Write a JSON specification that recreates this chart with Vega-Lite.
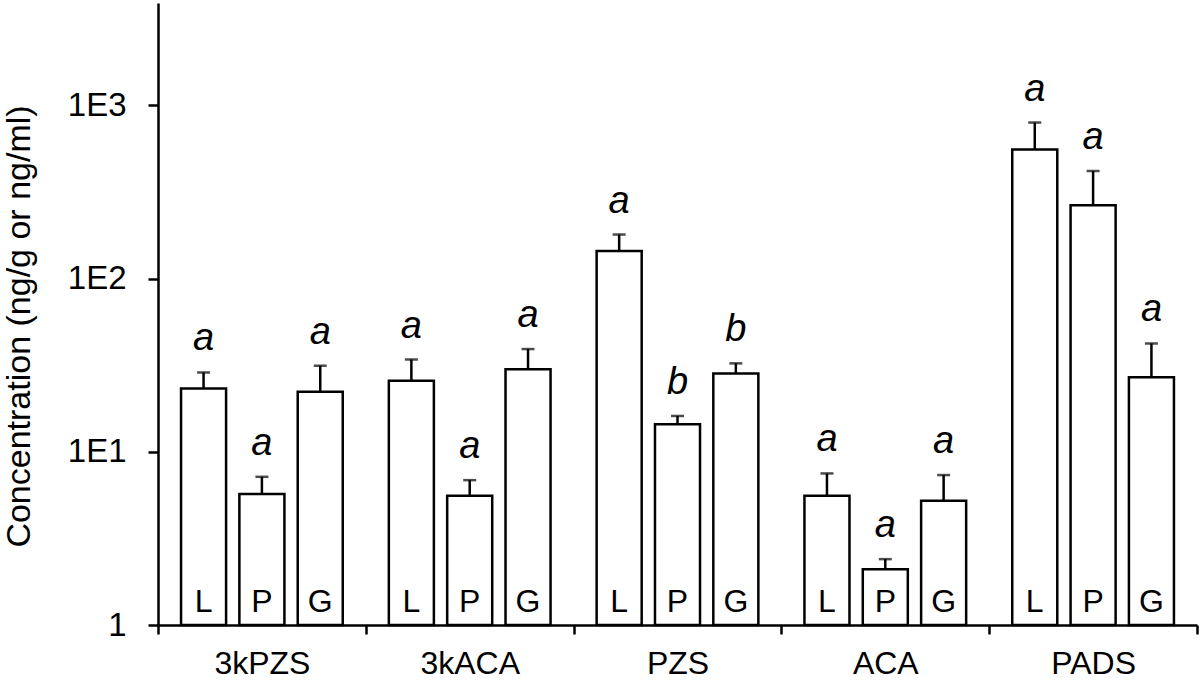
{
  "$schema": "https://vega.github.io/schema/vega-lite/v6.json",
  "width": 1039,
  "height": 622,
  "autosize": "none",
  "padding": {"left": 158, "top": 3, "right": 3, "bottom": 55},
  "background": "white",
  "config": {"view": {"stroke": null}, "font": "Liberation Sans"},
  "data": {
    "values": [
      {"compound": "3kPZS", "tissue": "L", "value": 23.2, "upper": 28.7, "letter": "a"},
      {"compound": "3kPZS", "tissue": "P", "value": 5.7, "upper": 7.17, "letter": "a"},
      {"compound": "3kPZS", "tissue": "G", "value": 22.2, "upper": 31.4, "letter": "a"},
      {"compound": "3kACA", "tissue": "L", "value": 25.7, "upper": 34.1, "letter": "a"},
      {"compound": "3kACA", "tissue": "P", "value": 5.57, "upper": 6.86, "letter": "a"},
      {"compound": "3kACA", "tissue": "G", "value": 30.0, "upper": 39.2, "letter": "a"},
      {"compound": "PZS", "tissue": "L", "value": 144.5, "upper": 179.6, "letter": "a"},
      {"compound": "PZS", "tissue": "P", "value": 14.4, "upper": 16.1, "letter": "b"},
      {"compound": "PZS", "tissue": "G", "value": 28.3, "upper": 32.4, "letter": "b"},
      {"compound": "ACA", "tissue": "L", "value": 5.57, "upper": 7.5, "letter": "a"},
      {"compound": "ACA", "tissue": "P", "value": 2.1, "upper": 2.4, "letter": "a"},
      {"compound": "ACA", "tissue": "G", "value": 5.22, "upper": 7.34, "letter": "a"},
      {"compound": "PADS", "tissue": "L", "value": 556, "upper": 796, "letter": "a"},
      {"compound": "PADS", "tissue": "P", "value": 265, "upper": 418, "letter": "a"},
      {"compound": "PADS", "tissue": "G", "value": 26.9, "upper": 42.2, "letter": "a"}
    ]
  },
  "encoding": {
    "x": {
      "field": "compound",
      "type": "nominal",
      "sort": ["3kPZS", "3kACA", "PZS", "ACA", "PADS"],
      "scale": {"paddingInner": 0, "paddingOuter": 0},
      "axis": {
        "title": null,
        "labelAngle": 0,
        "labelFontSize": 32,
        "labelColor": "black",
        "labelPadding": 14,
        "tickBand": "extent",
        "tickSize": 9,
        "tickWidth": 2.5,
        "tickColor": "black",
        "domainColor": "black",
        "domainWidth": 2.5,
        "grid": false
      }
    },
    "xOffset": {
      "field": "tissue",
      "type": "nominal",
      "sort": ["L", "P", "G"],
      "scale": {"paddingInner": 0.228, "paddingOuter": 0.395}
    }
  },
  "layer": [
    {
      "mark": {"type": "bar", "fill": "white", "stroke": "black", "strokeWidth": 2.5},
      "encoding": {
        "y": {
          "field": "value",
          "type": "quantitative",
          "scale": {"type": "log", "domain": [1, 3900], "nice": false},
          "axis": {
            "values": [1, 10, 100, 1000],
            "labelExpr": "datum.value == 1 ? '1' : '1E' + format(log(datum.value)/LN10, '.0f')",
            "title": "Concentration (ng/g or ng/ml)",
            "titleFontSize": 34,
            "titleFontWeight": "normal",
            "titleColor": "black",
            "titlePadding": 31,
            "titleY": 323,
            "labelFontSize": 33,
            "labelColor": "black",
            "labelPadding": 22,
            "tickSize": 10,
            "tickWidth": 2.5,
            "tickColor": "black",
            "domainColor": "black",
            "domainWidth": 2.5,
            "grid": false
          }
        },
        "y2": {"datum": 1}
      }
    },
    {
      "mark": {"type": "rule", "color": "black", "strokeWidth": 2.5},
      "encoding": {
        "y": {"field": "value", "type": "quantitative"},
        "y2": {"field": "upper"}
      }
    },
    {
      "mark": {"type": "tick", "color": "black", "thickness": 2.5, "size": 13, "orient": "horizontal"},
      "encoding": {
        "y": {"field": "upper", "type": "quantitative"}
      }
    },
    {
      "mark": {"type": "text", "fontSize": 32, "baseline": "alphabetic", "dy": -13, "color": "black"},
      "encoding": {
        "y": {"datum": 1},
        "text": {"field": "tissue"}
      }
    },
    {
      "mark": {"type": "text", "fontSize": 38, "fontStyle": "italic", "baseline": "alphabetic", "dy": -22, "color": "black"},
      "encoding": {
        "y": {"field": "upper", "type": "quantitative"},
        "text": {"field": "letter"}
      }
    }
  ]
}
